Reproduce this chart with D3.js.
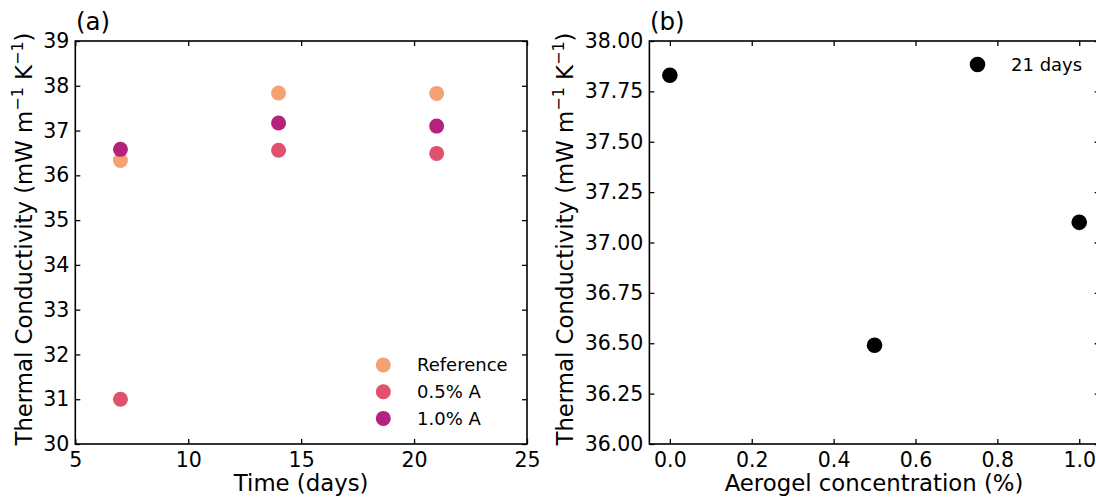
<!DOCTYPE html>
<html>
<head>
<meta charset="utf-8">
<script src="https://cdn.jsdelivr.net/npm/d3@7"></script>
<style>
  html, body { margin: 0; padding: 0; background: #fff; }
  svg { display: block; font-family: "DejaVu Sans", sans-serif; }
</style>
</head>
<body>
<svg id="chart" width="1096" height="500"></svg>
<script>
// ---------- data ----------
const days = [7, 14, 21];
const seriesNames = ["Reference", "0.5% A", "1.0% A"];
const referenceVals = [36.33, 37.84, 37.83];
const halfPctVals = [31.0, 36.56, 36.49];
const onePctVals = [36.58, 37.17, 37.10];
const seriesColors = ["#f6a173", "#e1506c", "#b5227d"];

const concentrations = [0.0, 0.5, 1.0];
const conductivity21 = [37.83, 36.49, 37.10];
const legendB = "21 days";

const xTicksA = [5, 10, 15, 20, 25];
const yTicksA = [30, 31, 32, 33, 34, 35, 36, 37, 38, 39];
const xTicksB = [0.0, 0.2, 0.4, 0.6, 0.8, 1.0];
const yTicksB = [36.00, 36.25, 36.50, 36.75, 37.00, 37.25, 37.50, 37.75, 38.00];

// ---------- setup ----------
const svg = d3.select("#chart");
const TICK_FONT = 20.5, LABEL_FONT = 22.8, LEG_FONT = 18;

function frame(g, x, y, xTicks, yTicks, xFmt, yFmt) {
  const [x0, x1] = x.range();
  const [y0, y1] = y.range(); // y0 bottom
  const styleAxis = sel => {
    sel.select(".domain").remove();
    sel.selectAll(".tick line").attr("stroke", "#000").attr("stroke-width", 1.3);
    sel.selectAll(".tick text").attr("fill", "#000")
      .style("font-family", "DejaVu Sans").style("font-size", TICK_FONT + "px");
  };
  g.append("g").attr("transform", `translate(0,${y0})`)
    .call(d3.axisBottom(x).tickValues(xTicks).tickFormat(xFmt).tickSize(-5).tickPadding(8))
    .call(styleAxis);
  g.append("g").attr("transform", `translate(0,${y1})`)
    .call(d3.axisTop(x).tickValues(xTicks).tickFormat("").tickSize(-5))
    .call(styleAxis);
  g.append("g").attr("transform", `translate(${x0},0)`)
    .call(d3.axisLeft(y).tickValues(yTicks).tickFormat(yFmt).tickSize(-5).tickPadding(6))
    .call(styleAxis);
  g.append("g").attr("transform", `translate(${x1},0)`)
    .call(d3.axisRight(y).tickValues(yTicks).tickFormat("").tickSize(-5))
    .call(styleAxis);
  g.append("rect")
    .attr("x", x0).attr("y", y1)
    .attr("width", x1 - x0).attr("height", y0 - y1)
    .attr("fill", "none").attr("stroke", "#000").attr("stroke-width", 1.6);
}

function yLabel(g, xBase, yCenter) {
  const t = g.append("text")
    .attr("transform", `translate(${xBase},${yCenter}) rotate(-90)`)
    .attr("text-anchor", "middle")
    .style("font-size", LABEL_FONT + "px")
    .attr("fill", "#000");
  t.append("tspan").text("Thermal Conductivity (mW m");
  t.append("tspan").attr("dy", -9).style("font-size", "16px").text("\u22121");
  t.append("tspan").attr("dy", 9).text(" K");
  t.append("tspan").attr("dy", -9).style("font-size", "16px").text("\u22121");
  t.append("tspan").attr("dy", 9).text(")");
}

// ---------- panel (a) ----------
const gA = svg.append("g");
const xA = d3.scaleLinear().domain([5, 25]).range([75.3, 527]);
const yA = d3.scaleLinear().domain([30, 39]).range([444, 41]);
frame(gA, xA, yA, xTicksA, yTicksA, d3.format("d"), d3.format("d"));

const seriesA = [referenceVals, halfPctVals, onePctVals];
seriesA.forEach((vals, si) => {
  gA.append("g").selectAll("circle")
    .data(vals.map((v, i) => ({ d: days[i], v })))
    .join("circle")
    .attr("cx", p => xA(p.d)).attr("cy", p => yA(p.v))
    .attr("r", 7.5).attr("fill", seriesColors[si]);
});

// legend (a)
const legA = gA.append("g");
seriesNames.forEach((name, i) => {
  const ly = 365 + i * 26.7;
  legA.append("circle").attr("cx", 383.3).attr("cy", ly).attr("r", 7.5).attr("fill", seriesColors[i]);
  legA.append("text").attr("x", 417).attr("y", ly).attr("dy", "0.36em")
    .style("font-size", LEG_FONT + "px").attr("fill", "#000").text(name);
});

gA.append("text").attr("x", (75.3 + 527) / 2).attr("y", 490.5)
  .attr("text-anchor", "middle").style("font-size", LABEL_FONT + "px").text("Time (days)");
yLabel(gA, 32, 239);
gA.append("text").attr("x", 76).attr("y", 30).style("font-size", "24.5px").text("(a)");

// ---------- panel (b) ----------
const gB = svg.append("g");
const xB = d3.scaleLinear().domain([-0.05, 1.05]).range([649.4, 1099.7]);
const yB = d3.scaleLinear().domain([36, 38]).range([444, 41]);
frame(gB, xB, yB, xTicksB, yTicksB, d3.format(".1f"), d3.format(".2f"));

gB.append("g").selectAll("circle")
  .data(concentrations.map((c, i) => ({ c, v: conductivity21[i] })))
  .join("circle")
  .attr("cx", p => xB(p.c)).attr("cy", p => yB(p.v))
  .attr("r", 7.8).attr("fill", "#000");

gB.append("circle").attr("cx", 977.5).attr("cy", 64.5).attr("r", 7.8).attr("fill", "#000");
gB.append("text").attr("x", 1011).attr("y", 64.5).attr("dy", "0.36em")
  .style("font-size", LEG_FONT + "px").text(legendB);

gB.append("text").attr("x", 874).attr("y", 490.5)
  .attr("text-anchor", "middle").style("font-size", LABEL_FONT + "px").text("Aerogel concentration (%)");
yLabel(gB, 573, 239);
gB.append("text").attr("x", 650).attr("y", 30).style("font-size", "24.5px").text("(b)");
</script>
</body>
</html>
